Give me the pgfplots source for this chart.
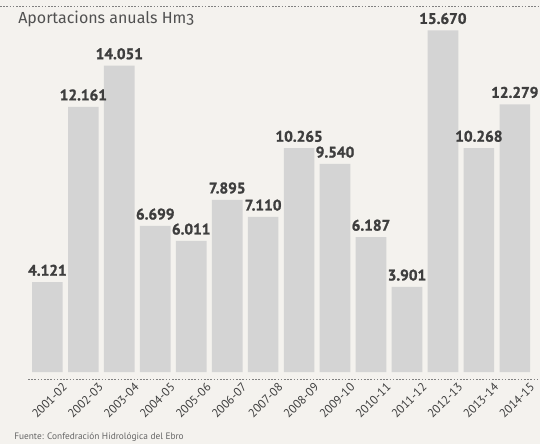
\documentclass[border=0pt]{standalone}
\usepackage{pgfplots}
\pgfplotsset{compat=1.18}
\usepackage{fontspec}
\setmainfont{PT Sans}
\newfontfamily\titlefont[Numbers=OldStyle]{Fira Sans}
\newfontfamily\valfont[BoldFeatures={FakeBold=1.4}]{PT Sans}
\definecolor{paper}{RGB}{244,242,238}
\definecolor{barfill}{RGB}{212,212,212}
\definecolor{ink}{RGB}{62,62,62}

\begin{document}
\begin{tikzpicture}
% page = 540x444 px, 1px = 0.75pt
\fill[paper] (0,0) rectangle (405pt,-333pt);
\path[use as bounding box] (0,0) rectangle (405pt,-333pt);
\draw[gray, dash pattern=on 1.2pt off 1.2pt, line width=0.4pt] (0,-4.5pt) -- (405pt,-4.5pt);
\draw[gray, dash pattern=on 1.2pt off 1.2pt, line width=0.4pt] (21pt,-284.25pt) -- (405pt,-284.25pt);
\node[anchor=base west, inner sep=0pt, text=ink!90, font=\titlefont\fontsize{12}{14}\selectfont]
  at (13.5pt,-17.5pt) {Aportacions anuals Hm3};

\begin{axis}[
    at={(21pt,-279pt)}, anchor=south west,
    scale only axis, width=384pt, height=278pt,
    xmin=-0.54, xmax=13.70, ymin=0, ymax=17000,
    axis line style={draw=none},
    ytick=\empty,
    xtick={0,...,13},
    xticklabels={2001-02,2002-03,2003-04,2004-05,2005-06,2006-07,2007-08,2008-09,2009-10,2010-11,2011-12,2012-13,2013-14,2014-15},
    major tick length=0pt,
    xticklabel style={rotate=45, anchor=north east, inner sep=0pt, text=ink,
        font=\fontsize{9}{10}\selectfont, xshift=2.5pt, yshift=-12.75pt},
    ybar, bar width=23pt,
    nodes near coords, point meta=explicit symbolic,
    every node near coord/.append style={font=\valfont\bfseries\fontsize{11.5}{12}\selectfont,
        text=ink, inner sep=0pt, anchor=south, yshift=4.5pt},
    clip=false,
]
\addplot[fill=barfill, draw=none] coordinates {
(0,4121) [4.121]
(1,12161) [12.161]
(2,14051) [14.051]
(3,6699) [6.699]
(4,6011) [6.011]
(5,7895) [7.895]
(6,7110) [7.110]
(7,10265) [10.265]
(8,9540) [9.540]
(9,6187) [6.187]
(10,3901) [3.901]
(11,15670) [15.670]
(12,10268) [10.268]
(13,12279) [12.279]
};
\end{axis}

\node[anchor=base west, inner sep=0pt, text=ink!80, font=\fontsize{7}{8}\selectfont]
  at (10.5pt,-329.25pt) {Fuente: Confedración Hidrológica del Ebro};
\end{tikzpicture}
\end{document}
